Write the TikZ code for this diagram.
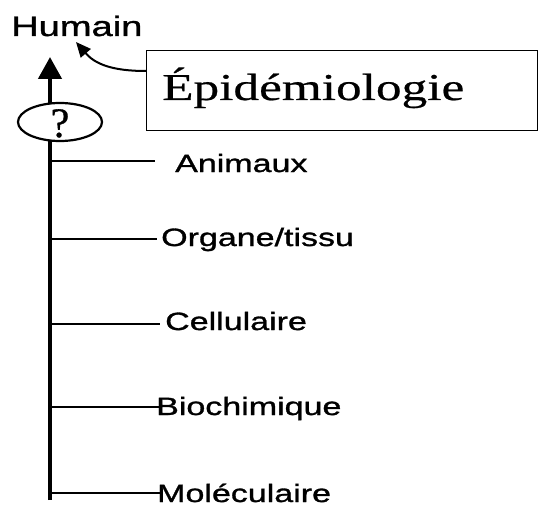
\documentclass[tikz,border=0pt]{standalone}
\usepackage{fontspec}
\newfontfamily\lsans[FakeStretch=1.36,FakeBold=1.2]{Liberation Sans}
\newfontfamily\lserif[FakeStretch=1.35,FakeBold=0.6]{Liberation Serif}
\newfontfamily\qserif[FakeBold=0.8]{Liberation Serif}
\usetikzlibrary{arrows.meta,shapes.geometric}
\tikzset{
  lbl/.style={anchor=base west, inner sep=0pt, font=\lsans\fontsize{25}{28}\selectfont},
  tick/.style={line width=2pt},
  axis/.style={line width=4.5pt},
}
\begin{document}
\begin{tikzpicture}[x=1pt,y=-1pt]
\useasboundingbox (0,0) rectangle (539,511);
% box
\node[draw, line width=1.2pt, minimum width=391pt, minimum height=80pt, inner sep=0pt, anchor=north west] (box) at (146,50) {};
\node[anchor=base west, inner sep=0pt, font=\lserif\fontsize{38}{42}\selectfont] (epi) at (162,100) {Épidémiologie};
% top label
\node[lbl, font=\lsans\fontsize{28}{30}\selectfont] (hum) at (11,36) {Humain};
% question ellipse
\node[draw, ellipse, line width=2.2pt, minimum width=84pt, minimum height=38pt, inner sep=0pt, fill=white] (q) at (60,122) {};
\node[font=\qserif\fontsize{42}{44}\selectfont, inner sep=0pt, anchor=base] (qm) at (60,137) {?};
% axis
\coordinate (bot) at (50,500);
\coordinate (qb) at (50,140);
\coordinate (qt) at (50,104);
\coordinate (tip) at (50,57);
\draw[axis] (bot) -- (qb);
\draw[axis, -{Triangle[length=22pt,width=23pt]}] (qt) -- (tip);
% levels
\node[lbl] (ani) at (175,172) {Animaux};
\node[lbl] (org) at (161,246) {Organe/tissu};
\node[lbl] (cel) at (165,330) {Cellulaire};
\node[lbl] (bio) at (156,415) {Biochimique};
\node[lbl] (mol) at (157,502) {Moléculaire};
\coordinate (a0) at (50,161);  \coordinate (a1) at (155,161);
\coordinate (o0) at (50,239);  \coordinate (o1) at (157,239);
\coordinate (c0) at (50,324);  \coordinate (c1) at (160,324);
\coordinate (b0) at (50,407);  \coordinate (b1) at (160,407);
\coordinate (m0) at (50,493);  \coordinate (m1) at (160,493);
\draw[tick] (a0) -- (a1);
\draw[tick] (o0) -- (o1);
\draw[tick] (c0) -- (c1);
\draw[tick] (b0) -- (b1);
\draw[tick] (m0) -- (m1);
% curved arrow from box to Humain
\coordinate (cs) at (146,71);
\coordinate (ce) at (76,42);
\draw[line width=2pt, -{Triangle[length=15pt,width=13pt]}] (cs) .. controls (112,71) and (95,64) .. (ce);
\end{tikzpicture}
\end{document}
